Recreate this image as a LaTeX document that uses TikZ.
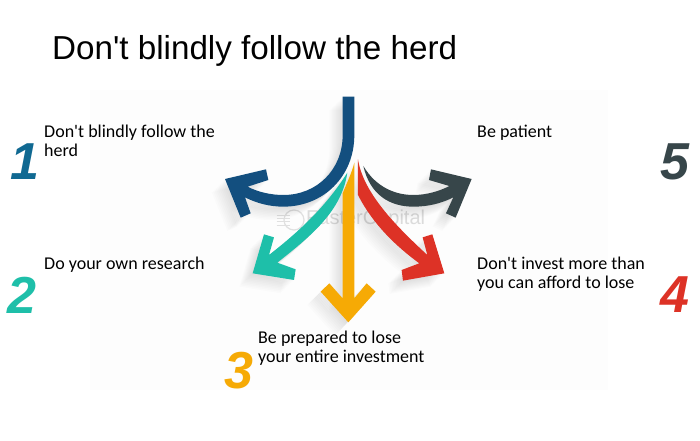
\documentclass[tikz,border=0pt]{standalone}
\usepackage{fontspec}
\newfontfamily\labelfont{Carlito}
\newfontfamily\titlefont{Liberation Sans}
\usetikzlibrary{positioning}

\definecolor{arrowBlue}{HTML}{134F7F}
\definecolor{arrowTeal}{HTML}{1EBFA9}
\definecolor{arrowYellow}{HTML}{F6AA05}
\definecolor{arrowRed}{HTML}{DD3226}
\definecolor{arrowDark}{HTML}{37464A}
\definecolor{paleBack}{HTML}{FDFDFD}

\tikzset{
  label/.style={inner sep=0pt,anchor=north west,align=left,text=black,
    font=\labelfont\fontsize{18}{19}\selectfont},
  num/.style={inner sep=0pt,anchor=center,
    font=\titlefont\bfseries\itshape\fontsize{52}{52}\selectfont}
}

\newcommand{\pathBlue}{(428,50) -- (463,50) -- (463,165)
  .. controls (463,290) and (370,380) .. (250,380)
  .. controls (210,380) and (170,370) .. (135,352)
  -- (152,400) -- (122,413) -- (75,297) -- (198,268) -- (205,300) -- (143,320)
  .. controls (175,337) and (215,345) .. (250,345)
  .. controls (350,345) and (428,270) .. (428,165) -- cycle}
\newcommand{\pathTeal}{(442,278) .. controls (425,395) and (330,470) .. (232,548)
  -- (287,568) -- (282,600) -- (158,580) -- (192,463) -- (222,472) -- (207,525)
  .. controls (290,460) and (375,385) .. cycle}
\newcommand{\pathYellow}{(463,248) -- (463,655) -- (500,610) -- (527,635) -- (445,727)
  -- (362,635) -- (388,610) -- (428,655) -- (428,340)
  .. controls (440,310) and (455,280) .. cycle}
\newcommand{\pathRed}{(474,238) .. controls (490,340) and (590,440) .. (682,525)
  -- (668,472) -- (697,463) -- (733,580) -- (609,602) -- (605,570) -- (658,550)
  .. controls (590,500) and (520,435) .. (474,345) -- cycle}
\newcommand{\pathDark}{(490,258) .. controls (530,325) and (590,345) .. (640,345)
  .. controls (680,345) and (720,333) .. (748,318)
  -- (687,300) -- (693,268) -- (815,297) -- (767,413) -- (738,400) -- (760,352)
  .. controls (725,370) and (685,380) .. (640,380)
  .. controls (570,380) and (510,345) .. cycle}

\begin{document}
\begin{tikzpicture}[x=1pt,y=-1pt]
  \useasboundingbox (0,0) rectangle (700,440);
  \fill[white] (0,0) rectangle (700,440);
  \fill[paleBack] (90,90) rectangle (608,390);

  \node[inner sep=0pt,anchor=base west,font=\titlefont\fontsize{33.2}{34}\selectfont] (title) at (52,59) {Don't blindly follow the herd};

  \begin{scope}[shift={(200,80)},x=.3333pt,y=-.3333pt]
    \draw[black!12,line width=1.2pt] (282,420) circle (30);
    \foreach \yy in {405,415,425,435}
      \draw[black!12,line width=.8pt] (230,\yy) -- (270,\yy);
    \node[inner sep=0pt,text=black!14,font=\titlefont\fontsize{20}{20}\selectfont] (mark) at (497,418) {FasterCapital};

    \foreach \d in {4,8,...,40} {
      \fill[black,opacity=.012,shift={(-\d,\d)}] \pathBlue;
      \fill[black,opacity=.012,shift={(-\d,\d)}] \pathTeal;
      \fill[black,opacity=.012,shift={(-\d,\d)}] \pathYellow;
      \fill[black,opacity=.012,shift={(-\d,\d)}] \pathRed;
      \fill[black,opacity=.012,shift={(-\d,\d)}] \pathDark;
    }
    \fill[arrowBlue] \pathBlue;
    \fill[arrowTeal] \pathTeal;
    \fill[arrowYellow] \pathYellow;
    \fill[arrowRed] \pathRed;
    \fill[arrowDark] \pathDark;
  \end{scope}

  \node[label] (t1) at (44,125) {Don't blindly follow the\\herd};
  \node[label] (t2) at (44,257) {Do your own research};
  \node[label] (t3) at (258,331) {Be prepared to lose\\your entire investment};
  \node[label] (t4) at (477,257) {Don't invest more than\\you can afford to lose};
  \node[label] (t5) at (477,125) {Be patient};

  \node[num,text=arrowBlue!85!cyan] (n1) at (25,162) {1};
  \node[num,text=arrowTeal] (n2) at (22,295) {2};
  \node[num,text=arrowYellow] (n3) at (239,371) {3};
  \node[num,text=arrowRed] (n4) at (675,295) {4};
  \node[num,text=arrowDark] (n5) at (675,162) {5};
\end{tikzpicture}
\end{document}
